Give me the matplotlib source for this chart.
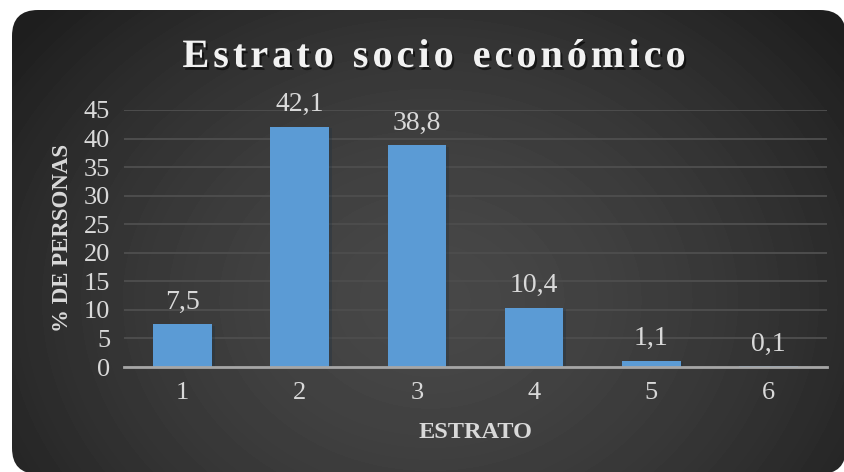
import numpy as np
import matplotlib.pyplot as plt
import matplotlib.patheffects as pe
from matplotlib.patches import FancyBboxPatch

# data
estratos = ['1', '2', '3', '4', '5', '6']
porcentaje = [7.5, 42.1, 38.8, 10.4, 1.1, 0.1]
etiquetas = ['7,5', '42,1', '38,8', '10,4', '1,1', '0,1']
yticks = [0, 5, 10, 15, 20, 25, 30, 35, 40, 45]

W, H = 844, 472
fig = plt.figure(figsize=(W / 100, H / 100), dpi=100)
fig.patch.set_facecolor('white')
plt.rcParams['font.family'] = ['Liberation Serif', 'DejaVu Serif']

# background card with radial gradient
bg = fig.add_axes([0, 0, 1, 1])
bg.set_xlim(0, W)
bg.set_ylim(H, 0)
bg.axis('off')
yy, xx = np.mgrid[0:H, 0:W]
r = np.sqrt(((xx - 430) / 520.0) ** 2 + ((yy - 300) / 420.0) ** 2)
r = np.clip(r, 0, 1)
c0, c1 = 0.28, 0.12
grad = c0 + (c1 - c0) * r ** 1.6
img = bg.imshow(grad, cmap='gray', vmin=0, vmax=1, extent=[0, W, H, 0], zorder=0)
card = FancyBboxPatch((12, 10), 834, 464, boxstyle='round,pad=0,rounding_size=26',
                      facecolor='none', edgecolor='none', transform=bg.transData)
bg.add_patch(card)
img.set_clip_path(card)

# title with letter spacing
title = 'Estrato socio económico'
renderer = fig.canvas.get_renderer()
tprops = dict(fontsize=29, fontweight='bold', color='#f2f2f2')
spacing = 4.0
widths = []
for ch in title:
    t = bg.text(0, 0, ch if ch != ' ' else 'a', **tprops)
    w = t.get_window_extent(renderer).width
    if ch == ' ':
        w = w * 0.55
    widths.append(w)
    t.remove()
total = sum(widths) + spacing * (len(title) - 1)
x = 434 - total / 2
shadow = [pe.SimplePatchShadow(offset=(1.5, -2), shadow_rgbFace='black', alpha=0.55), pe.Normal()]
for ch, w in zip(title, widths):
    if ch != ' ':
        bg.text(x, 67, ch, ha='left', va='baseline', path_effects=shadow, **tprops)
    x += w + spacing

# main axes
ax = fig.add_axes([124 / W, 1 - 367 / H, (827 - 124) / W, (367 - 110) / H])
ax.patch.set_alpha(0)
pos = np.arange(len(estratos))
bars = ax.bar(pos, porcentaje, width=0.5, color='#5b9bd5', zorder=3,
              path_effects=[pe.SimplePatchShadow(offset=(2, -1), alpha=0.3), pe.Normal()])
for b, lab in zip(bars, etiquetas):
    ax.annotate(lab, (b.get_x() + b.get_width() / 2, b.get_height()), xytext=(0, 7),
                textcoords='offset points', ha='center', va='bottom',
                fontsize=20, color='#d9d9d9')

ax.set_xlim(-0.5, len(estratos) - 0.5)
ax.set_ylim(0, 45)
ax.set_yticks(yticks)
ax.set_xticks(pos)
ax.set_xticklabels(estratos)
ax.tick_params(axis='both', length=0, labelsize=19, labelcolor='#d9d9d9')
ax.tick_params(axis='x', pad=11)
ax.tick_params(axis='y', pad=10)
ax.grid(axis='y', color='#4d4d4d', linewidth=1.4, zorder=0)
for s in ['top', 'right', 'left']:
    ax.spines[s].set_visible(False)
ax.spines['bottom'].set_color('#a6a6a6')
ax.spines['bottom'].set_linewidth(2)
ax.spines['bottom'].set_zorder(4)

fig.text(63 / W, 1 - 238 / H, '% DE PERSONAS', rotation=90, ha='center', va='center',
         fontsize=16.5, fontweight='bold', color='#d9d9d9')
fig.text(475 / W, 1 - 433 / H, 'ESTRATO', ha='center', va='center',
         fontsize=17.5, fontweight='bold', color='#d9d9d9')

fig.savefig('out.png', dpi=100)
